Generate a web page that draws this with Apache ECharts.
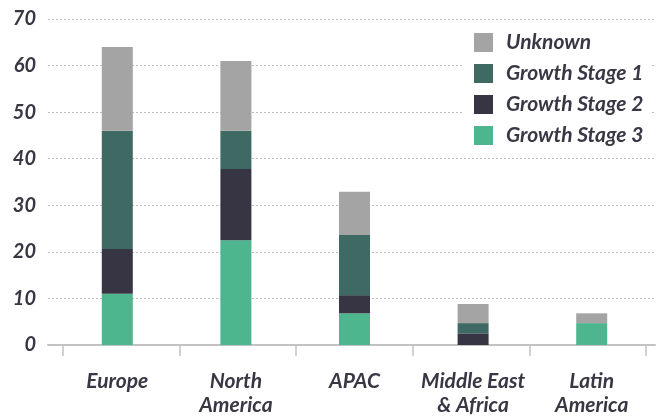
<!DOCTYPE html>
<html>
<head>
<meta charset="utf-8">
<script src="https://cdn.jsdelivr.net/npm/echarts@6/dist/echarts.min.js"></script>
<style>
  html, body { margin: 0; padding: 0; background: #ffffff; }
  #chart { width: 662px; height: 417px; }
</style>
</head>
<body>
<div id="chart"></div>
<script>
// Regions along the x axis
const regions = ['Europe', 'North\nAmerica', 'APAC', 'Middle East\n& Africa', 'Latin\nAmerica'];

// Stacked segments per region (bottom to top: Stage 3, Stage 2, Stage 1, Unknown)
const growthStage3 = [11, 22.5, 6.8, 0, 4.7];
const growthStage2 = [9.6, 15.3, 3.9, 2.5, 0];
const growthStage1 = [25.4, 8.2, 12.9, 2.2, 0];
const unknown = [18, 15, 9.3, 4.1, 2.1];

// Value axis ticks
const yMin = 0, yMax = 70, yStep = 10;

const textColor = '#383744';
const font = 'Lato';

const chart = echarts.init(document.getElementById('chart'), null, { renderer: 'canvas' });

function stackSeries(name, data, color) {
  return {
    name: name,
    type: 'bar',
    stack: 'total',
    xAxisIndex: 1,
    yAxisIndex: 1,
    barWidth: 31,
    itemStyle: { color: color },
    data: data,
    z: 3
  };
}

chart.setOption({
  animation: false,
  backgroundColor: '#ffffff',
  grid: [
    // frame: gridlines, value labels and baseline
    { left: 48, right: 7, top: 19, bottom: 72 },
    // bars and category labels
    { left: 58, right: 11, top: 19, bottom: 72 },
    // category tick marks
    { left: 63, right: 16, top: 19, bottom: 72 }
  ],
  legend: {
    orient: 'vertical',
    left: 462,
    top: 26,
    backgroundColor: '#ffffff',
    padding: [6, 8, 6, 12],
    itemWidth: 19,
    itemHeight: 19,
    itemGap: 10,
    icon: 'rect',
    data: ['Unknown', 'Growth Stage 1', 'Growth Stage 2', 'Growth Stage 3'],
    textStyle: {
      fontFamily: font,
      fontStyle: 'italic',
      fontWeight: 'bold',
      fontSize: 21,
      lineHeight: 21,
      color: textColor,
      padding: [0, 0, 0, 8]
    },
    z: 10
  },
  xAxis: [
    {
      gridIndex: 0,
      type: 'category',
      data: regions,
      axisLine: { show: true, lineStyle: { color: '#c2c2c2', width: 2 } },
      axisTick: { show: false },
      axisLabel: { show: false },
      splitLine: { show: false }
    },
    {
      gridIndex: 1,
      type: 'category',
      data: regions,
      axisLine: { show: false },
      axisTick: { show: false },
      axisLabel: {
        margin: 24,
        fontFamily: font,
        fontStyle: 'italic',
        fontWeight: 'bold',
        fontSize: 21,
        lineHeight: 24,
        color: textColor,
        interval: 0
      }
    },
    {
      gridIndex: 2,
      type: 'category',
      data: regions,
      axisLine: { show: false },
      axisTick: { show: true, length: 11, lineStyle: { color: '#c2c2c2', width: 1.5 } },
      axisLabel: { show: false }
    }
  ],
  yAxis: [
    {
      gridIndex: 0,
      type: 'value',
      min: yMin,
      max: yMax,
      interval: yStep,
      axisLine: { show: false },
      axisTick: { show: false },
      axisLabel: {
        margin: 12,
        fontFamily: font,
        fontStyle: 'italic',
        fontWeight: 'bold',
        fontSize: 20,
        color: textColor
      },
      splitLine: { show: true, lineStyle: { color: '#bdbdbd', type: [2, 2], width: 1 } }
    },
    { gridIndex: 1, type: 'value', min: yMin, max: yMax, interval: yStep, show: false },
    { gridIndex: 2, type: 'value', min: yMin, max: yMax, interval: yStep, show: false }
  ],
  series: [
    stackSeries('Growth Stage 3', growthStage3, '#4db68f'),
    stackSeries('Growth Stage 2', growthStage2, '#373544'),
    stackSeries('Growth Stage 1', growthStage1, '#3e6a63'),
    stackSeries('Unknown', unknown, '#a4a4a4')
  ]
});
</script>
</body>
</html>
